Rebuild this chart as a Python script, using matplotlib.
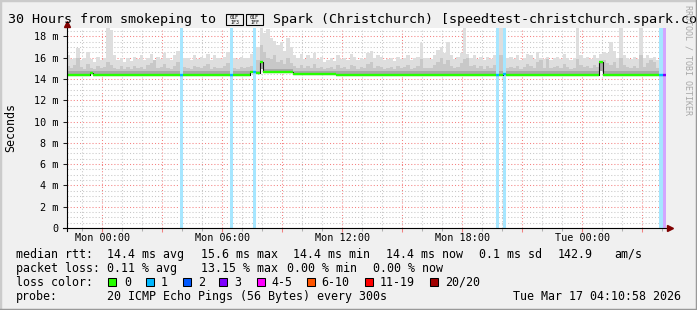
import matplotlib
matplotlib.use("Agg")
import matplotlib.pyplot as plt
from matplotlib.patches import Rectangle
from matplotlib.lines import Line2D
from matplotlib.ticker import FixedLocator, MultipleLocator
import numpy as np

W, H = 697, 310
plt.rcParams['font.family'] = ['DejaVu Sans Mono']

# time in hours relative to Mon 00:00, 10 minute bins over 30 hours
t_start = -1.8
bin_h = 1 / 6
n_bins = 180

# upper edge of the smoke (ms), one value per bin
smoke_max = [
    16.2, 15.9, 16.0, 16.9, 15.8, 16.0, 16.5, 15.9, 15.6, 16.1, 15.8, 16.0, 18.8, 18.6, 16.2, 15.8, 16.0, 15.6,
    16.0, 15.7, 16.1, 15.9, 16.2, 15.8, 16.0, 16.3, 15.7, 16.1, 15.9, 16.4, 16.0, 15.8, 16.2, 16.6, 16.8, 16.0,
    16.0, 15.8, 16.2, 15.9, 16.1, 16.0, 16.3, 15.8, 16.2, 16.0, 15.9, 16.1, 16.5, 16.2, 16.0, 15.9, 16.1, 16.0,
    16.0, 16.3, 16.2, 17.0, 18.8, 18.3, 18.7, 17.8, 17.6, 17.2, 17.5, 16.6, 17.8, 17.0, 16.2, 16.0, 16.3, 15.9,
    16.2, 16.0, 16.4, 15.9, 16.1, 15.6, 15.8, 16.0, 15.7, 16.2, 15.9, 16.0, 15.8, 16.3, 16.1, 15.8, 16.0, 15.9,
    16.4, 16.6, 16.0, 16.2, 16.1, 15.8, 15.9, 16.0, 15.7, 16.1, 15.9, 16.0, 16.2, 15.8, 16.0, 16.1, 17.4, 16.0,
    16.0, 15.9, 16.2, 16.7, 17.0, 16.4, 17.5, 16.2, 15.9, 16.1, 16.4, 18.8, 16.3, 16.0, 16.2, 15.9, 16.1, 15.8,
    16.1, 15.9, 16.2, 16.4, 18.8, 16.6, 16.0, 16.1, 15.9, 16.2, 15.8, 16.0, 16.3, 16.2, 15.9, 16.5, 16.0, 15.9,
    16.1, 15.8, 16.0, 16.1, 15.9, 16.3, 16.0, 15.8, 16.0, 18.8, 16.2, 16.0, 16.1, 15.9, 16.2, 16.0, 16.3, 16.5,
    16.4, 17.5, 16.6, 16.0, 18.8, 16.2, 16.0, 15.9, 16.1, 15.9, 18.9, 16.0, 16.2, 16.0, 16.1, 15.8, 16.0, 16.0,
]
# top of the denser (darker) part of the smoke
smoke_mid = [
    15.2, 15.0, 15.3, 16.0, 15.1, 14.9, 15.4, 15.0, 14.9, 15.2, 15.0, 15.1, 15.6, 15.3, 15.0, 14.9, 15.2, 14.9,
    15.1, 14.9, 15.2, 15.0, 15.1, 14.9, 15.3, 15.5, 15.8, 15.0, 15.1, 15.4, 15.0, 14.9, 15.2, 15.6, 15.9, 15.1,
    15.0, 14.9, 15.2, 15.1, 15.0, 15.2, 15.4, 14.9, 15.1, 15.0, 15.0, 15.2, 15.5, 15.3, 15.0, 14.9, 15.1, 15.0,
    15.1, 15.2, 15.3, 15.8, 17.2, 16.5, 16.0, 15.9, 16.2, 15.6, 15.8, 15.4, 16.0, 15.5, 15.2, 15.0, 15.3, 15.0,
    15.2, 15.0, 15.4, 15.0, 15.1, 14.9, 15.0, 15.1, 14.9, 15.3, 15.0, 15.1, 14.9, 15.3, 15.2, 14.9, 15.1, 15.0,
    15.4, 15.6, 15.0, 15.2, 15.1, 14.9, 15.0, 15.1, 14.9, 15.2, 15.0, 15.1, 15.3, 14.9, 15.0, 15.2, 15.9, 15.0,
    15.0, 15.0, 15.3, 15.6, 16.0, 15.4, 15.8, 15.2, 15.0, 15.1, 15.5, 15.9, 16.0, 15.2, 15.3, 15.0, 15.2, 14.9,
    15.2, 15.0, 15.3, 15.5, 16.2, 15.6, 15.0, 15.1, 15.0, 15.2, 14.9, 15.1, 15.4, 15.2, 15.0, 15.6, 15.8, 15.0,
    15.9, 15.0, 15.1, 15.2, 15.0, 15.4, 15.1, 14.9, 15.0, 15.9, 15.3, 15.1, 15.2, 15.0, 15.3, 15.1, 15.6, 15.8,
    15.5, 15.3, 15.6, 15.0, 16.0, 15.3, 15.1, 15.0, 15.2, 15.0, 16.2, 15.1, 15.5, 15.8, 15.6, 15.0, 15.1, 15.0,
]
smoke_low = [14.7] * 58 + [14.95] * 10 + [14.7] * 112

median = ([14.4] * 7 + [14.58] + [14.4] * 47 + [14.62, 14.62, 14.55, 15.6] + [14.68] * 7
          + [14.62] * 2 + [14.47] * 13 + [14.4] * 50 + [14.5] + [14.4] * 28 + [15.55] + [14.4] * 19)

loss_bins = [34, 49, 56, 129, 131, 178, 179]
loss_count = [1, 1, 1, 1, 1, 1, 3]

loss_labels = ['0', '1', '2', '3', '4-5', '6-10', '11-19', '20/20']
loss_colors = ['#26ff00', '#00b8ff', '#0059ff', '#7e00ff', '#ff00ff', '#ff5500', '#ff0000', '#a10000']
loss_upper = [0, 1, 2, 3, 5, 10, 19, 20]

x_tick_pos = [0, 6, 12, 18, 24]
x_tick_labels = ['Mon 00:00', 'Mon 06:00', 'Mon 12:00', 'Mon 18:00', 'Tue 00:00']
y_ticks = [0, 2, 4, 6, 8, 10, 12, 14, 16, 18]
y_tick_labels = ['0'] + [f'{v} m' for v in y_ticks[1:]]

stats_rtt = [('median rtt:', 16), ('14.4 ms avg', 107), ('15.6 ms max', 201), ('14.4 ms min', 293),
             ('14.4 ms now', 386), ('0.1 ms sd', 479), ('142.9', 558), ('am/s', 614)]
stats_loss = [('packet loss:', 16), ('0.11 % avg', 107), ('13.15 % max', 201),
              ('0.00 % min', 287), ('0.00 % now', 373)]
box_x = [108, 146, 183, 219, 257, 307, 365, 430]
label_x = [124, 161, 198, 234, 271, 321, 380, 445]

# the two flag code points of the title, drawn by rrdtool as hex boxes
flag_hex = [('01F', '1F3'), ('01F', '1FF')]
flag_x = [226, 246]


def fx(x):
    return x / W


def fy(y):
    return 1 - y / H


def level(n):
    for k, up in enumerate(loss_upper):
        if n <= up:
            return k
    return len(loss_upper) - 1


def light(c, a=0.35):
    r, g, b = matplotlib.colors.to_rgb(c)
    return (1 - a + a * r, 1 - a + a * g, 1 - a + a * b)


fig = plt.figure(figsize=(W / 100, H / 100), dpi=100, facecolor='#f0f0f0')
ax = fig.add_axes([fx(66.5), fy(228), (666 - 66.5) / W, 200 / H])
ax.set_facecolor('white')
ax.set_xlim(t_start, t_start + n_bins * bin_h)
ax.set_ylim(0, 18.78)
for s in ax.spines.values():
    s.set_visible(False)

edges = t_start + np.arange(n_bins + 1) * bin_h
med = np.array(median)
ext = lambda a: np.append(a, a[-1])

# grid
ax.set_axisbelow(True)
ax.xaxis.set_major_locator(FixedLocator(np.arange(0, 28, 3)))
ax.xaxis.set_minor_locator(FixedLocator(np.arange(-1, 29, 1)))
ax.yaxis.set_major_locator(FixedLocator(y_ticks))
ax.yaxis.set_minor_locator(MultipleLocator(0.5))
ax.grid(which='minor', color='#c7c7c7', lw=0.75, ls=(0, (1, 2)))
ax.grid(which='major', color='#f58080', lw=0.75, ls=(0, (1, 2)))
ax.set_xticklabels([x_tick_labels[x_tick_pos.index(v)] if v in x_tick_pos else ''
                    for v in np.arange(0, 28, 3)])
ax.set_yticklabels(y_tick_labels)
ax.tick_params(axis='x', which='major', length=3, width=0.75, color='#f08080', labelsize=7.25, pad=0.5)
ax.tick_params(axis='x', which='minor', length=2, width=0.75, color='#b0b0b0')
ax.tick_params(axis='y', which='major', length=3, width=0.75, color='#202020', labelsize=7.25, pad=3)
ax.tick_params(axis='y', which='minor', length=0)

# smoke
ax.fill_between(edges, ext(med), ext(np.array(smoke_max)), step='post', color='#dedede', lw=0, zorder=2)
ax.fill_between(edges, ext(med), ext(np.array(smoke_mid)), step='post', color='#c8c8c8', lw=0, zorder=2)
ax.fill_between(edges, ext(med), ext(np.array(smoke_low)), step='post', color='#a8a8a8', lw=0, zorder=2)

# loss bars
for b, n in zip(loss_bins, loss_count):
    ax.axvspan(edges[b], edges[b + 1], color=light(loss_colors[level(n)]), lw=0, zorder=3)

# median line coloured by loss
ax.step(edges, ext(med), where='post', color='#101010', lw=0.8, zorder=4)
seg_colors = [loss_colors[0]] * n_bins
for b, n in zip(loss_bins, loss_count):
    seg_colors[b] = loss_colors[level(n)]
ax.hlines(med, edges[:-1], edges[1:], colors=seg_colors, lw=1.7, zorder=5)

# axes with arrows
ax.plot([t_start - 0.2, 28.35], [0, 0], color='black', lw=0.8, clip_on=False, zorder=6)
ax.plot([t_start, t_start], [-0.3, 18.95], color='black', lw=0.8, clip_on=False, zorder=6)
ax.plot([28.4], [0], marker='>', ms=4.5, color='#7f0000', clip_on=False, zorder=7)
ax.plot([t_start], [19.2], marker='^', ms=4.5, color='#7f0000', clip_on=False, zorder=7)

# title
fig.text(fx(8), fy(23.5), '30 Hours from smokeping to', fontsize=9.6, va='baseline')
for (top, bot), x in zip(flag_hex, flag_x):
    fig.patches.append(Rectangle((fx(x), fy(25)), 17 / W, 11 / H, transform=fig.transFigure,
                                 facecolor='none', edgecolor='black', lw=0.8))
    fig.text(fx(x + 8.5), fy(17.5), top, fontsize=3.6, ha='center', va='center')
    fig.text(fx(x + 8.5), fy(22.5), bot, fontsize=3.6, ha='center', va='center')
fig.text(fx(273), fy(23.5), 'Spark (Christchurch) [speedtest-christchurch.spark.co.nz]',
         fontsize=9.6, va='baseline')
fig.text(fx(11), fy(127), 'Seconds', fontsize=8.4, rotation=90, ha='center', va='center')
fig.text(fx(688), fy(60), 'RRDTOOL / TOBI OETIKER', fontsize=6, rotation=270,
         ha='center', va='center', color='#a8a8a8')

# legend
for txt, x in stats_rtt:
    fig.text(fx(x), fy(257.7), txt, fontsize=8.4, va='baseline')
for txt, x in stats_loss:
    fig.text(fx(x), fy(271.7), txt, fontsize=8.4, va='baseline')
fig.text(fx(16), fy(285.7), 'loss color:', fontsize=8.4, va='baseline')
for lab, c, bx, lx in zip(loss_labels, loss_colors, box_x, label_x):
    fig.patches.append(Rectangle((fx(bx), fy(286.3)), 8 / W, 8 / H, transform=fig.transFigure,
                                 facecolor=c, edgecolor='black', lw=0.75))
    fig.text(fx(lx), fy(285.7), lab, fontsize=8.4, va='baseline')
fig.text(fx(16), fy(299.7), 'probe:', fontsize=8.4, va='baseline')
fig.text(fx(107), fy(299.7), '20 ICMP Echo Pings (56 Bytes) every 300s', fontsize=8.4, va='baseline')
fig.text(fx(513), fy(299.7), 'Tue Mar 17 04:10:58 2026', fontsize=8.4, va='baseline')

# 3d frame
fig.lines.append(Line2D([0, 0, 1], [0, 1, 1], transform=fig.transFigure, color='#cbcbcb', lw=2.5))
fig.lines.append(Line2D([0, 1, 1], [0, 0, 1], transform=fig.transFigure, color='#999999', lw=2.5))

fig.savefig('out.png', dpi=100, facecolor=fig.get_facecolor())
